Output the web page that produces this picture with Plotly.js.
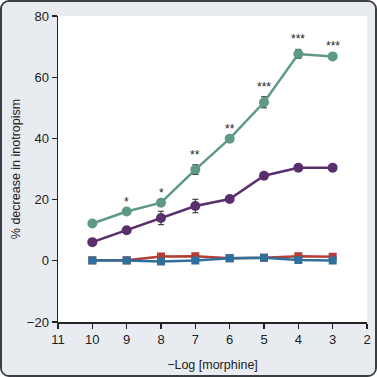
<!DOCTYPE html>
<html>
<head>
<meta charset="utf-8">
<script src="https://cdn.plot.ly/plotly-3.0.1.min.js"></script>
<style>
html,body{margin:0;padding:0;background:#ffffff;}
#frame{width:377px;height:377px;box-sizing:border-box;border:2px solid #3a3d42;border-radius:9px;overflow:hidden;background:#e8ecf1;}
#chart{width:373px;height:373px;}
</style>
</head>
<body>
<div id="frame"><div id="chart"></div></div>
<script>
const doses = [10, 9, 8, 7, 6, 5, 4, 3];
const greenVals = [12.2, 16.1, 19.0, 29.8, 39.9, 51.8, 67.6, 66.8];
const greenErr  = [0, 0, 0, 1.6, 0, 1.8, 1.5, 0];
const purpleVals = [6.1, 10.0, 14.0, 17.9, 20.2, 27.8, 30.4, 30.4];
const purpleErr  = [0, 0, 2.2, 2.2, 0, 0, 0, 0];
const redVals  = [0.2, 0.2, 1.4, 1.5, 0.8, 1.0, 1.5, 1.3];
const blueVals = [0.1, 0.1, -0.2, 0.1, 0.8, 1.0, 0.3, 0.1];
const sigLabels = ["", "*", "*", "**", "**", "***", "***", "***"];
const xTicks = [11, 10, 9, 8, 7, 6, 5, 4, 3, 2];
const yTicks = [-20, 0, 20, 40, 60, 80];
const yTickText = ["\u221220", "0", "20", "40", "60", "80"];

const GREEN = "#5e9a83", PURPLE = "#5a2f6e", RED = "#b63c36", BLUE = "#2e6f9c";

function errBar(arr){
  return {type:"data", array:arr, visible:true, color:"#222", thickness:1, width:3};
}

const traces = [
  {x:doses, y:redVals, mode:"lines+markers", line:{color:RED, width:2.5},
   marker:{symbol:"square", size:8, color:RED}},
  {x:doses, y:blueVals, mode:"lines+markers", line:{color:BLUE, width:2.5},
   marker:{symbol:"square", size:8, color:BLUE}},
  {x:doses, y:purpleVals, mode:"lines+markers", line:{color:PURPLE, width:2.5},
   marker:{symbol:"circle", size:10, color:PURPLE}, error_y:errBar(purpleErr)},
  {x:doses, y:greenVals, mode:"lines+markers", line:{color:GREEN, width:2.5},
   marker:{symbol:"circle", size:10, color:GREEN}, error_y:errBar(greenErr)}
];

const annotations = [];
doses.forEach((d,i)=>{
  if(sigLabels[i]){
    annotations.push({x:d, y:greenVals[i]+greenErr[i], xref:"x", yref:"y",
      text:sigLabels[i], showarrow:false, yanchor:"bottom", yshift:1,
      font:{family:"Liberation Sans, Arial, sans-serif", size:12, color:"#222"}});
  }
});

const layout = {
  width:373, height:373,
  margin:{l:56, r:8, t:14, b:53},
  paper_bgcolor:"#e8ecf1",
  plot_bgcolor:"#ffffff",
  showlegend:false,
  font:{family:"Liberation Sans, Arial, sans-serif", color:"#222"},
  xaxis:{range:[11,2], tickvals:xTicks, ticktext:xTicks.map(String),
    showgrid:false, zeroline:false, showline:true, linecolor:"#222", linewidth:1.5,
    ticks:"outside", ticklen:5, tickcolor:"#222", tickwidth:1.2,
    tickfont:{size:13, color:"#222"},
    title:{text:"\u2212Log [morphine]", font:{size:12.5, color:"#222"}, standoff:14}},
  yaxis:{range:[-20,80], tickvals:yTicks, ticktext:yTickText,
    showgrid:false, zeroline:false, showline:true, linecolor:"#222", linewidth:1.5,
    ticks:"outside", ticklen:5, tickcolor:"#222", tickwidth:1.2,
    tickfont:{size:13, color:"#222"},
    title:{text:"% decrease in inotropism", font:{size:12.5, color:"#222"}, standoff:3}},
  annotations:annotations
};

Plotly.newPlot("chart", traces, layout, {displayModeBar:false, staticPlot:true});
</script>
</body>
</html>
